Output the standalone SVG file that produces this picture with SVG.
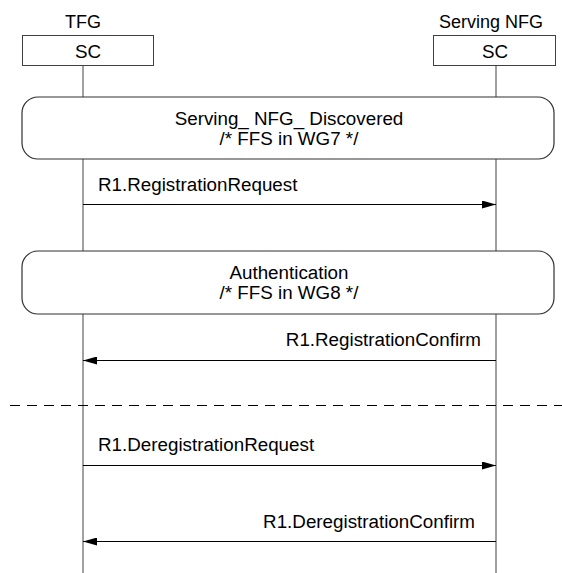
<svg xmlns="http://www.w3.org/2000/svg" width="562" height="573" viewBox="0 0 562 573">
<defs>
<style>
text{font-family:"Liberation Sans",Arial,sans-serif;font-size:18.8px;fill:#000}
.hdr{font-size:18px}
.mid{text-anchor:middle}
.end{text-anchor:end}
.box{fill:#fff;stroke:#404040;stroke-width:1}
.life{stroke:#808080;stroke-width:1.5;fill:none}
.msg{stroke:#000;stroke-width:1;fill:none}
.cond{fill:#fff;stroke:#303030;stroke-width:1.2}
.sep{stroke:#000;stroke-width:1;stroke-dasharray:10 7;fill:none}
</style>
<marker id="ah" viewBox="0 0 14 8" refX="14" refY="4" markerWidth="14" markerHeight="8" markerUnits="userSpaceOnUse" orient="auto">
<path d="M0,0 L14,4 L0,8 Z" fill="#000"/>
</marker>
</defs>
<g id="lifelines">
<line class="life" x1="83" y1="65" x2="83" y2="573"/>
<line class="life" x1="496" y1="65" x2="496" y2="573"/>
</g>
<g id="tfg">
<text class="mid hdr" x="83" y="28">TFG</text>
<rect class="box" x="22.5" y="35.5" width="131" height="30"/>
<text class="mid" x="88" y="58">SC</text>
</g>
<g id="serving-nfg">
<text class="mid hdr" x="491" y="28">Serving NFG</text>
<rect class="box" x="433.5" y="35.5" width="122" height="30"/>
<text class="mid" x="495" y="58">SC</text>
</g>
<g id="cond-discovered">
<rect class="cond" x="22" y="97" width="532" height="62" rx="16" ry="16"/>
<text class="mid" x="289" y="125">Serving_ NFG_ Discovered</text>
<text class="mid" x="289" y="144.5">/* FFS in WG7 */</text>
</g>
<g id="cond-auth">
<rect class="cond" x="22" y="251" width="532" height="63" rx="16" ry="16"/>
<text class="mid" x="289" y="279">Authentication</text>
<text class="mid" x="289" y="298.5">/* FFS in WG8 */</text>
</g>
<g id="connectors">
<line class="msg" x1="83" y1="204.5" x2="496" y2="204.5" marker-end="url(#ah)"/>
<line class="msg" x1="496" y1="360.5" x2="83" y2="360.5" marker-end="url(#ah)"/>
<line class="sep" x1="10" y1="405.5" x2="562" y2="405.5"/>
<line class="msg" x1="83" y1="465.5" x2="496" y2="465.5" marker-end="url(#ah)"/>
<line class="msg" x1="496" y1="541.5" x2="83" y2="541.5" marker-end="url(#ah)"/>
</g>
<g id="labels">
<text x="98" y="191">R1.RegistrationRequest</text>
<text class="end" x="481" y="346">R1.RegistrationConfirm</text>
<text x="98" y="451">R1.DeregistrationRequest</text>
<text class="end" x="475" y="528">R1.DeregistrationConfirm</text>
</g>
</svg>
